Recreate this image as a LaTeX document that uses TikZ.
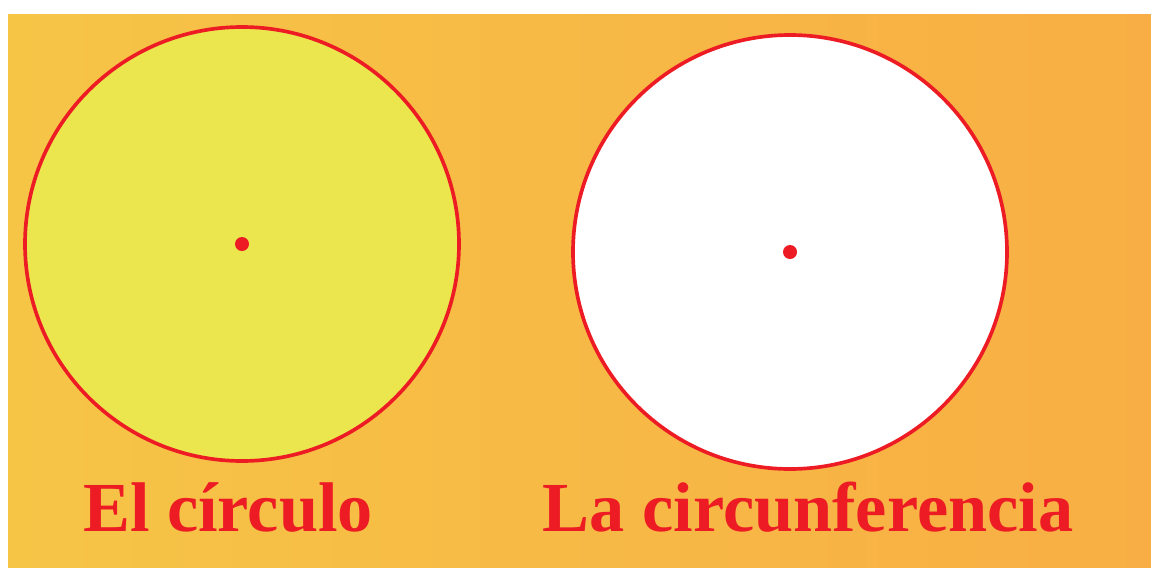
\documentclass[tikz,border=0pt]{standalone}
\usepackage{fontspec}
\setmainfont{Liberation Serif}
\usepackage{tikz}
\usetikzlibrary{shapes,positioning}

\definecolor{bgleft}{RGB}{246,197,70}
\definecolor{bgright}{RGB}{248,174,68}
\definecolor{redline}{RGB}{237,28,36}
\definecolor{fillyellow}{RGB}{235,230,78}

\begin{document}
\begin{tikzpicture}[x=0.025cm, y=-0.025cm, every node/.style={inner sep=0pt, outer sep=0pt},
  ring/.style={draw=redline, circle, line width=2.6pt, minimum size=434*0.025cm},
  centre/.style={fill=redline, circle, minimum size=14*0.025cm},
  caption/.style={text=redline, font=\bfseries\fontsize{50}{60}\selectfont, anchor=base}]
\useasboundingbox (0,0) rectangle (1151,567);
\shade[left color=bgleft, right color=bgright] (8,14) rectangle (1151,567);

\node (circulo) [ring, fill=fillyellow] at (242,244) {};
\node (circ) [ring, fill=white] at (790,252) {};
\node (c1) [centre] at (circulo.center) {};
\node (c2) [centre] at (circ.center) {};

\node (lab1) [caption] at (228,531) {El círculo};
\node (lab2) [caption] at (808,531) {La circunferencia};
\end{tikzpicture}
\end{document}
